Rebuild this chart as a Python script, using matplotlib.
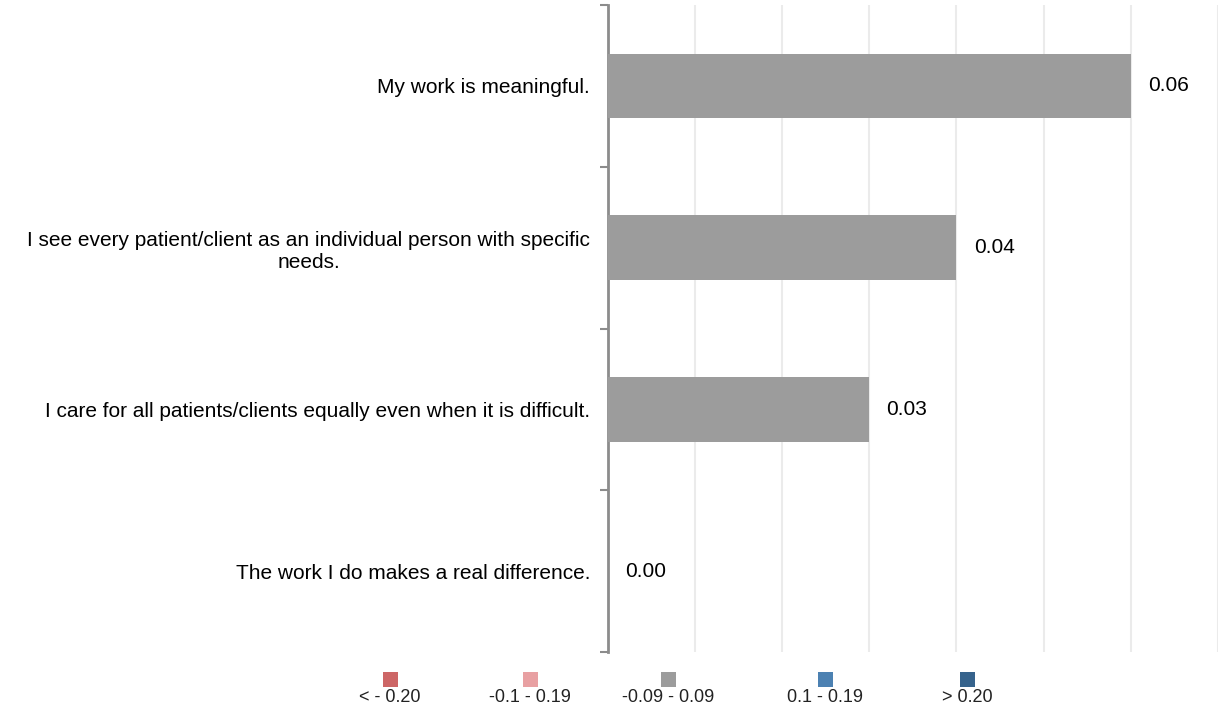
import matplotlib
matplotlib.use("Agg")
import matplotlib.pyplot as plt
from matplotlib.patches import Rectangle

plt.rcParams['font.family'] = ['Liberation Sans', 'DejaVu Sans']

categories = [
    "My work is meaningful.",
    "I see every patient/client as an individual person with specific\nneeds.",
    "I care for all patients/clients equally even when it is difficult.",
    "The work I do makes a real difference.",
]
values = [0.06, 0.04, 0.03, 0.00]
value_labels = ["0.06", "0.04", "0.03", "0.00"]
legend_labels = ["< - 0.20", "-0.1 - 0.19", "-0.09 - 0.09", "0.1 - 0.19", "> 0.20"]
legend_colors = ["#CD6666", "#E8A0A2", "#9C9C9C", "#4C81B2", "#36638C"]
bar_color = "#9C9C9C"

W, H = 1220, 709
fig = plt.figure(figsize=(W / 100, H / 100), dpi=100)
ax = fig.add_axes([607.5 / W, 1 - 652 / H, (1218 - 607.5) / W, (652 - 5) / H])

y = list(range(len(categories)))
ax.barh(y, values, height=0.4, color=bar_color, zorder=3)
ax.set_ylim(len(categories) - 0.5, -0.5)
ax.set_xlim(0, 0.07)

for yi, v, lab in zip(y, values, value_labels):
    ax.annotate(lab, (v, yi), xytext=(12.5, 0), textcoords='offset points',
                ha='left', va='center', fontsize=15, color='#000000')

ax.set_xticks([i * 0.01 for i in range(8)])
ax.tick_params(axis='x', length=0, labelbottom=False)
ax.grid(axis='x', color='#EBEBEB', linewidth=1.5, zorder=0)

ax.set_yticks([i - 0.5 for i in range(len(categories) + 1)])
ax.set_yticklabels([])
ax.set_yticks(y, minor=True)
ax.set_yticklabels(categories, minor=True, fontsize=15, ha='right',
                   multialignment='center', linespacing=1.2)
ax.tick_params(axis='y', which='major', length=6, width=1.5, color='#8C8C8C', direction='out')
ax.tick_params(axis='y', which='minor', length=0, pad=12.6)

for s in ['top', 'right', 'bottom']:
    ax.spines[s].set_visible(False)
ax.spines['left'].set_color('#8C8C8C')
ax.spines['left'].set_linewidth(2)

# legend
centers = [390, 530, 668, 825, 967]
sq = 15
for cx, lab, col in zip(centers, legend_labels, legend_colors):
    fig.add_artist(Rectangle(((cx - sq / 2) / W, 1 - 687 / H), sq / W, sq / H,
                             transform=fig.transFigure, facecolor=col, edgecolor='none'))
    fig.text(cx / W, 1 - 698 / H, lab, ha='center', va='center', fontsize=13,
             color='#222222')

fig.savefig("out.png", dpi=100)
